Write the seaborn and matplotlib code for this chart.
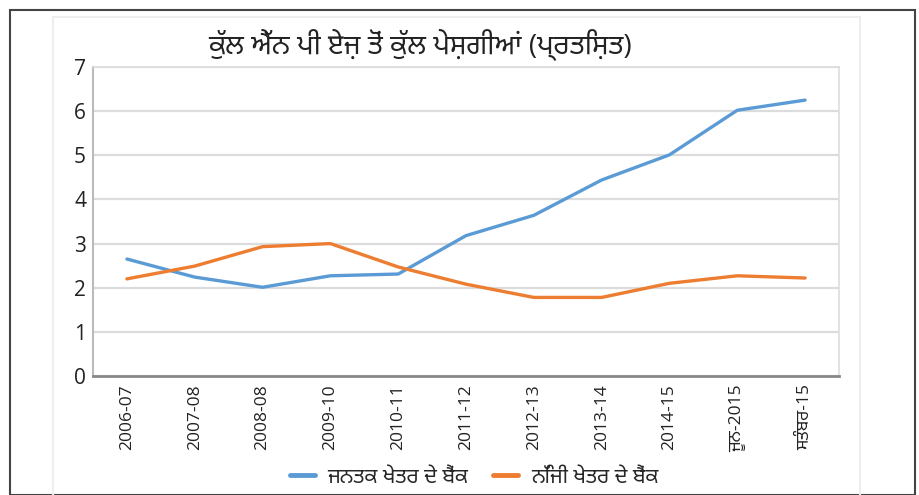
import matplotlib
matplotlib.use("Agg")
import matplotlib.pyplot as plt
import seaborn as sns
import pandas as pd
from matplotlib import font_manager, ft2font
from matplotlib.patches import Rectangle

# ---- data ----
categories = ["2006-07", "2007-08", "2008-08", "2009-10", "2010-11", "2011-12",
              "2012-13", "2013-14", "2014-15", "ਜੂਨ-2015", "ਸਤੰਬਰ-15"]
public_banks = [2.65, 2.24, 2.01, 2.27, 2.31, 3.18, 3.64, 4.44, 5.01, 6.02, 6.25]
private_banks = [2.20, 2.49, 2.93, 3.00, 2.47, 2.08, 1.78, 1.78, 2.10, 2.27, 2.22]
series_names = ["ਜਨਤਕ ਖੇਤਰ ਦੇ ਬੈਂਕ", "ਨਿੱਜੀ ਖੇਤਰ ਦੇ ਬੈਂਕ"]
title_text = "ਕੁੱਲ ਐੱਨ ਪੀ ਏਜ਼ ਤੋਂ ਕੁੱਲ ਪੇਸ਼ਗੀਆਂ (ਪ੍ਰਤਿਸ਼ਤ)"
y_ticks = [0, 1, 2, 3, 4, 5, 6, 7]

colors = ["#5B9BD5", "#ED7D31"]

sns.set_theme(style="white")


def find_fonts(ch):
    found = []
    for f in font_manager.fontManager.ttflist:
        try:
            cm = ft2font.FT2Font(f.fname).get_charmap()
        except Exception:
            continue
        if ord(ch) in cm and f.name not in found:
            found.append(f.name)
    return found


def rank(name):
    prefs = ["Noto Sans Gurmukhi", "Lohit Gurmukhi", "Raavi", "Mukta Mahee",
             "Gurmukhi", "Noto", "Sans"]
    for i, p in enumerate(prefs):
        if p.lower() in name.lower():
            return i
    return len(prefs)


gur_fonts = sorted(find_fonts("ਕ"), key=rank)
families = ["Open Sans"] + gur_fonts[:1] + ["DejaVu Sans"]
plt.rcParams["font.family"] = families

idx = list(range(len(categories)))
df = pd.DataFrame({
    "x": idx * 2,
    "y": public_banks + private_banks,
    "series": [series_names[0]] * len(idx) + [series_names[1]] * len(idx),
})

fig = plt.figure(figsize=(9.19, 4.95), dpi=100)
W, H = 919, 495
ax = fig.add_axes([93 / W, 1 - 376 / H, (839 - 93) / W, (376 - 67) / H])

sns.lineplot(data=df, x="x", y="y", hue="series", palette=colors,
             linewidth=2.4, ax=ax, legend=True)

ax.set_xlim(-0.5, len(categories) - 0.5)
ax.set_ylim(0, 7)
ax.set_yticks(y_ticks)
ax.set_yticklabels([str(v) for v in y_ticks], fontsize=15, color="#222222")
ax.set_xticks(idx)
ax.set_xticklabels(categories, rotation=90, fontsize=12.5, color="#222222")
ax.tick_params(axis="x", length=0, pad=6)
ax.tick_params(axis="y", length=0, pad=5)
ax.set_xlabel("")
ax.set_ylabel("")
ax.yaxis.grid(True, color="#dcdcdc", linewidth=1.6)
ax.set_axisbelow(True)
for side in ["top", "right"]:
    ax.spines[side].set_color("#dddddd")
    ax.spines[side].set_linewidth(1.2)
ax.spines["left"].set_color("#bbbbbb")
ax.spines["left"].set_linewidth(1.5)
ax.spines["bottom"].set_color("#888888")
ax.spines["bottom"].set_linewidth(2.0)

# legend
handles, labels = ax.get_legend_handles_labels()
for h in handles:
    h.set_linewidth(3.5)
ax.legend_.remove()
fig.legend(handles, labels, loc="center", bbox_to_anchor=(474 / W, 1 - 477 / H),
           ncol=2, frameon=False, fontsize=15, handlelength=1.2,
           columnspacing=1.2, handletextpad=0.6)

# title
fig.text(420 / W, 1 - 44 / H, title_text, ha="center", va="center",
         fontsize=20, color="#222222")

# frames
fig.patches.append(Rectangle((10 / W, 0), (915 - 10) / W, 1 - 10 / H,
                             transform=fig.transFigure, fill=False,
                             edgecolor="#444444", linewidth=1.5))
fig.patches.append(Rectangle((53 / W, -0.05), (860 - 53) / W, 1 - 17 / H + 0.05,
                             transform=fig.transFigure, fill=False,
                             edgecolor="#eeeeee", linewidth=1.5))

fig.savefig("out.png", dpi=100)
